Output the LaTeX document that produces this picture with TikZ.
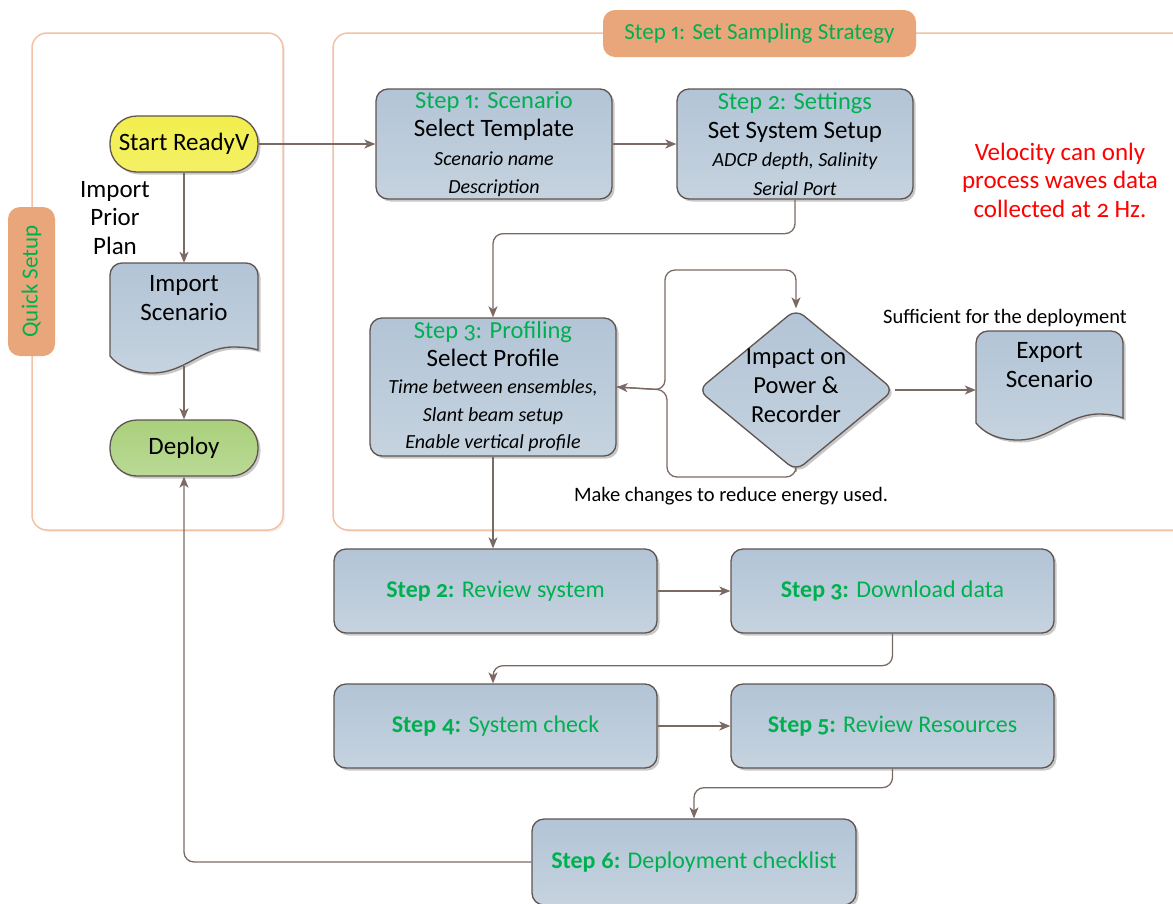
\documentclass[tikz,border=0pt]{standalone}
\usepackage{fontspec}
\setmainfont{Carlito}[Numbers={OldStyle,Proportional}]
\usetikzlibrary{shapes.geometric,shadows,arrows.meta}
\definecolor{boxA}{HTML}{B2C4D6}
\definecolor{boxB}{HTML}{C6D3DF}
\definecolor{edgec}{HTML}{5F5450}
\definecolor{linec}{HTML}{7B6A64}
\definecolor{grn}{HTML}{00B050}
\definecolor{orng}{HTML}{E8A67A}
\definecolor{orngl}{HTML}{F3C2A4}
\definecolor{yel}{HTML}{F2EE4C}
\definecolor{dgreen}{HTML}{A9D07B}
\tikzset{
  shd/.style={drop shadow={shadow xshift=2.5pt,shadow yshift=-2.5pt,opacity=0.3,fill=black!70}},
  box/.style={draw=edgec,line width=1.3pt,rounded corners=12pt,top color=boxA,bottom color=boxB,shd,inner sep=0pt,align=center},
  bigtxt/.style={font=\fontsize{25}{28.5}\selectfont},
  steptxt/.style={font=\fontsize{24}{28}\selectfont,text=grn},
  lbl/.style={font=\fontsize{20.5}{24}\selectfont,inner sep=0pt},
  tab/.style={fill=orng,rounded corners=12pt,inner sep=0pt,text=grn,font=\fontsize{23}{26}\selectfont},
  container/.style={draw=orngl,fill=white,line width=1.5pt,rounded corners=15pt,drop shadow={shadow xshift=2pt,shadow yshift=-2pt,opacity=0.12}},
  conn/.style={draw=linec,line width=1.3pt,rounded corners=10pt,-{Stealth[length=11pt,width=9pt,inset=3pt]}},
  docshape/.style={draw=edgec,line width=1.3pt,top color=boxA,bottom color=boxB,shd},
}
\newcommand{\itl}[1]{{\fontsize{20}{28}\selectfont\itshape #1}}
\begin{document}
\begin{tikzpicture}[x=1pt,y=-1pt]
\useasboundingbox (0,0) rectangle (1173,903);
% containers
\draw[container] (32,33) rectangle (283,530);
\draw[container] (333,33) rectangle (1200,530);
\node[tab,rotate=90,minimum width=149,minimum height=47] (qtab) at (31.5,281.5) {Quick Setup};
\node[tab,minimum width=313,minimum height=47] (stab) at (759.5,33.5) {Step 1: Set Sampling Strategy};
% quick setup column
\node[box,bigtxt,top color=yel,bottom color=yel!85!white,rounded corners=27pt,minimum width=148,minimum height=56] (start) at (184,144) {Start ReadyV};
\node[inner sep=0pt,minimum width=148,minimum height=110] (imp) at (184,318) {};
\path[docshape] (258,350) [rounded corners=12pt] -- (258,263) -- (110,263) -- (110,340) [sharp corners] -- (110,356)
  .. controls (118,366) and (132,373) .. (152,373) .. controls (185,373) and (200,348) .. (232,347)
  .. controls (245,347) and (252,348) .. (258,350) -- cycle;
\coordinate (impb) at (184,366);
\node[bigtxt,align=center,inner sep=0pt] (imptxt) at (184,298) {Import\\Scenario};
\node[box,bigtxt,top color=dgreen,bottom color=dgreen!80!white,rounded corners=27pt,minimum width=148,minimum height=56] (deploy) at (184,448) {Deploy};
\node[bigtxt,align=center,inner sep=0pt] (prior) at (115,218) {Import\\Prior\\Plan};
% step 1 boxes
\node[box,bigtxt,minimum width=236,minimum height=110] (scen) at (494,144)
  {\textcolor{grn}{\fontsize{24.5}{28}\selectfont Step 1: Scenario}\\Select Template\\\itl{Scenario name}\\\itl{Description}};
\node[box,bigtxt,minimum width=236,minimum height=110] (sett) at (795,144)
  {\textcolor{grn}{\fontsize{24.5}{28}\selectfont Step 2: Settings}\\Set System Setup\\\itl{ADCP depth, Salinity}\\\itl{Serial Port}};
\node[box,bigtxt,minimum width=246,minimum height=138,font=\fontsize{25}{27.5}\selectfont] (prof) at (493,387)
  {\textcolor{grn}{\fontsize{24.5}{27.5}\selectfont Step 3: Profiling}\\Select Profile\\{\fontsize{20}{27.5}\selectfont\itshape Time between ensembles,}\\{\fontsize{20}{27.5}\selectfont\itshape Slant beam setup}\\{\fontsize{20}{27.5}\selectfont\itshape Enable vertical profile}};
\node[diamond,draw=edgec,line width=1.3pt,rounded corners=10pt,top color=boxA,bottom color=boxB,shd,minimum width=196,minimum height=162,inner sep=0pt] (impact) at (796,390) {};
\node[bigtxt,align=center,inner sep=0pt,font=\fontsize{24.5}{29}\selectfont] (imptext) at (796,386) {Impact on\\Power \&\\Recorder};
\node[inner sep=0pt,minimum width=147,minimum height=110] (exp) at (1049.5,390) {};
\path[docshape] (1123,418) [rounded corners=12pt] -- (1123,331) -- (976,331) -- (976,405) [sharp corners] -- (976,423)
  .. controls (984,433) and (998,440) .. (1018,440) .. controls (1050,440) and (1066,415) .. (1098,414)
  .. controls (1111,414) and (1118,416) .. (1123,418) -- cycle;
\node[bigtxt,align=center,inner sep=0pt] (exptxt) at (1049.5,365) {Export\\Scenario};
\node[lbl] (suff) at (1005,318) {Sufficient for the deployment};
\node[lbl] (make) at (731,496) {Make changes to reduce energy used.};
\node[bigtxt,align=center,text=red,inner sep=0pt] (vel) at (1060,180) {Velocity can only\\process waves data\\collected at 2 Hz.};
% lower steps
\node[box,steptxt,minimum width=323,minimum height=84] (s2) at (495.5,591) {\textbf{Step 2:} Review system};
\node[box,steptxt,minimum width=323,minimum height=84] (s3) at (892.5,591) {\textbf{Step 3:} Download data};
\node[box,steptxt,minimum width=323,minimum height=84] (s4) at (495.5,726) {\textbf{Step 4:} System check};
\node[box,steptxt,minimum width=323,minimum height=84] (s5) at (892.5,726) {\textbf{Step 5:} Review Resources};
\node[box,steptxt,minimum width=324,minimum height=86] (s6) at (694,862) {\textbf{Step 6:} Deployment checklist};
% connectors
\draw[conn] (impb) -- (deploy.north);
\draw[conn] (start.south) -- (imp.north);
\draw[conn] (start.east) -- (scen.west);
\draw[conn] (scen.east) -- (sett.west);
\draw[conn] (sett.south) -- ++(0,34) -| (prof.north);
\draw[conn] (prof.south) -- (prof.south |- s2.north);
\draw[conn] (prof.east) -- (665,390) -- (665,270) -- (impact.north |- 0,270) -- (impact.north);
\draw[conn] (impact.south) -- (796,477) -- (667,477) -- (667,390) -- (prof.east);
\draw[conn] (impact.east) -- (impact.east -| exp.west);
\draw[conn] (s2.east) -- (s3.west);
\draw[conn] (s3.south) -- ++(0,32) -| (prof.south |- s4.north);
\draw[conn] (s4.east) -- (s5.west);
\draw[conn] (s5.south) -- ++(0,19) -| (s6.north);
\draw[conn] (s6.west) -| (deploy.south);
\end{tikzpicture}
\end{document}
